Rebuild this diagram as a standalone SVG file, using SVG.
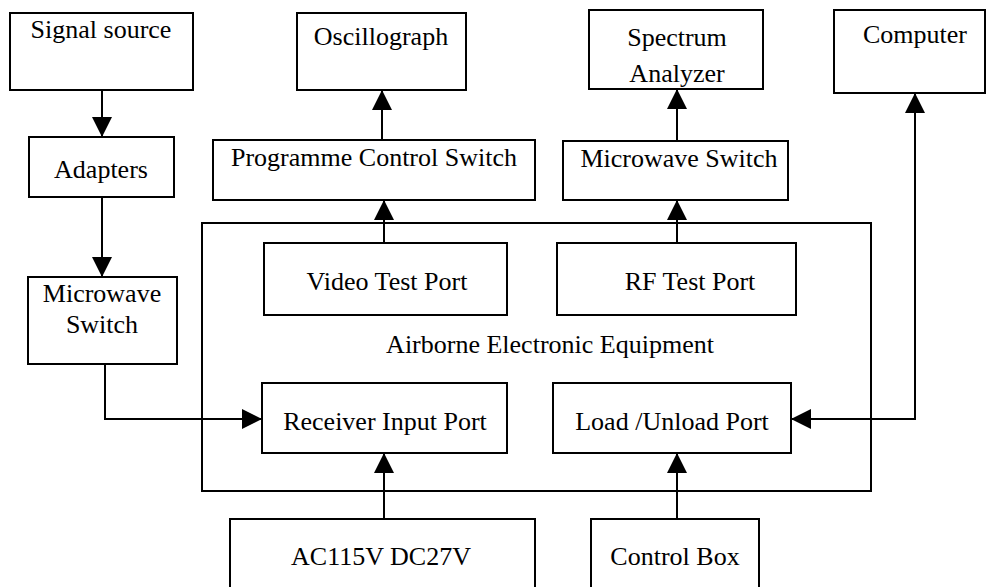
<svg xmlns="http://www.w3.org/2000/svg" width="988" height="587" viewBox="0 0 988 587">
<defs>
<style>
.b{fill:#fff;stroke:#000;stroke-width:2}
text{font-family:"Liberation Serif","Times New Roman",serif;font-size:26px;fill:#000;text-anchor:middle}
.c{fill:none;stroke:#000;stroke-width:2}
</style>
<marker id="ah" markerUnits="userSpaceOnUse" markerWidth="20" markerHeight="20" refX="20" refY="10" orient="auto-start-reverse" viewBox="0 0 20 20">
<path d="M0,0 L20,10 L0,20 z" fill="#000"/>
</marker>
</defs>
<g id="airborne">
<rect class="b" x="202" y="223" width="669" height="268"/>
<text x="550" y="353">Airborne Electronic Equipment</text>
</g>
<g id="signal-source"><rect class="b" x="10" y="13" width="183" height="77"/><text x="101" y="38">Signal source</text></g>
<g id="adapters"><rect class="b" x="29" y="137" width="145" height="60"/><text x="101" y="178">Adapters</text></g>
<g id="microwave-switch-left"><rect class="b" x="28" y="277" width="149" height="87"/><text x="102" y="302">Microwave</text><text x="102" y="333">Switch</text></g>
<g id="oscillograph"><rect class="b" x="297" y="13" width="169" height="77"/><text x="381" y="45">Oscillograph</text></g>
<g id="programme-control-switch"><rect class="b" x="213" y="140" width="322" height="60"/><text x="374" y="166">Programme Control Switch</text></g>
<g id="spectrum-analyzer"><rect class="b" x="589" y="10" width="174" height="79"/><text x="677" y="46">Spectrum</text><text x="677" y="82">Analyzer</text></g>
<g id="microwave-switch-top"><rect class="b" x="563" y="141" width="225" height="59"/><text x="679" y="167">Microwave Switch</text></g>
<g id="computer"><rect class="b" x="834" y="10" width="151" height="83"/><text x="915" y="43">Computer</text></g>
<g id="video-test-port"><rect class="b" x="264" y="243" width="243" height="72"/><text x="387" y="290">Video Test Port</text></g>
<g id="rf-test-port"><rect class="b" x="557" y="243" width="239" height="72"/><text x="690" y="290">RF Test Port</text></g>
<g id="receiver-input-port"><rect class="b" x="262" y="383" width="245" height="70"/><text x="385" y="430">Receiver Input Port</text></g>
<g id="load-unload-port"><rect class="b" x="553" y="383" width="238" height="70"/><text x="672" y="430">Load /Unload Port</text></g>
<g id="power"><rect class="b" x="230" y="519" width="305" height="90"/><text x="381" y="565">AC115V DC27V</text></g>
<g id="control-box"><rect class="b" x="591" y="519" width="168" height="90"/><text x="675" y="565">Control Box</text></g>
<g id="connectors">
<path class="c" d="M102,90 V137" marker-end="url(#ah)"/>
<path class="c" d="M102,197 V277" marker-end="url(#ah)"/>
<path class="c" d="M105,364 V419 H262" marker-end="url(#ah)"/>
<path class="c" d="M384,243 V200" marker-end="url(#ah)"/>
<path class="c" d="M382,140 V90" marker-end="url(#ah)"/>
<path class="c" d="M677,243 V200" marker-end="url(#ah)"/>
<path class="c" d="M677,141 V89" marker-end="url(#ah)"/>
<path class="c" d="M791,419 H915 V93" marker-start="url(#ah)" marker-end="url(#ah)"/>
<path class="c" d="M384,519 V453" marker-end="url(#ah)"/>
<path class="c" d="M677,519 V453" marker-end="url(#ah)"/>
</g>
</svg>
